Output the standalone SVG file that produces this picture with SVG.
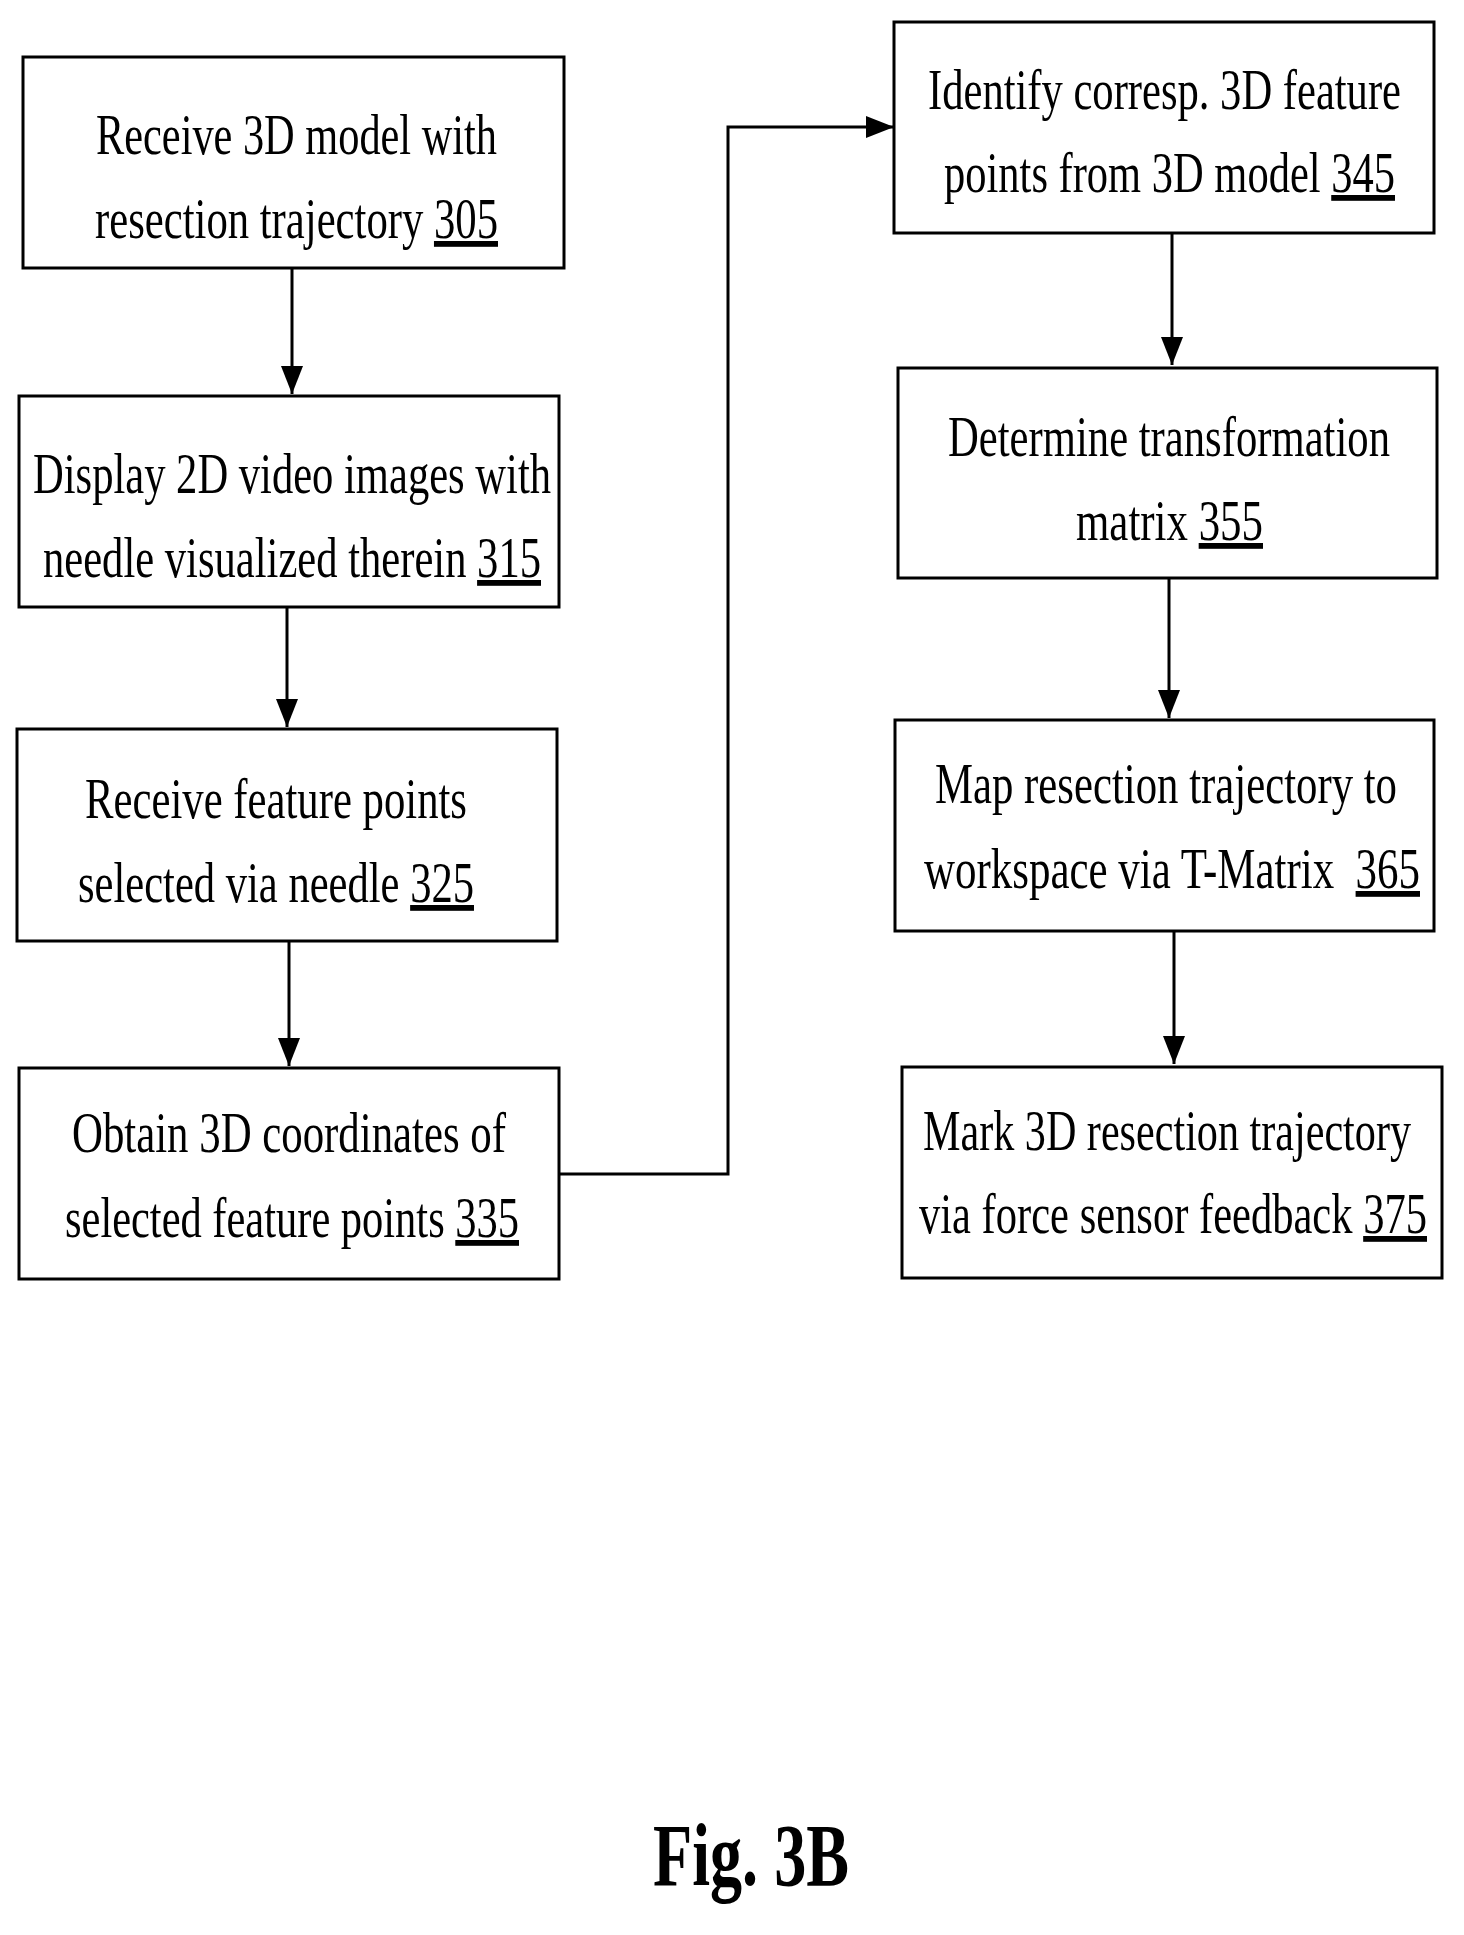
<svg xmlns="http://www.w3.org/2000/svg" width="1464" height="1935" viewBox="0 0 1464 1935">
<style>
rect{fill:#fff;stroke:#000;stroke-width:3}
text{font-family:"Liberation Serif",serif;font-size:58px;fill:#000}
.n{text-decoration:underline}
#connectors path{fill:none;stroke:#000;stroke-width:3;marker-end:url(#a)}
</style>
<defs><marker id="a" viewBox="0 0 10 10" refX="10" refY="5" markerWidth="28" markerHeight="22" markerUnits="userSpaceOnUse" orient="auto" preserveAspectRatio="none"><path d="M0,0L10,5L0,10z" fill="#000"/></marker></defs>
<rect width="1464" height="1935" style="stroke:none"/>
<g id="n305"><rect x="23" y="57" width="541" height="211"/>
<text x="96" y="154" textLength="401" lengthAdjust="spacingAndGlyphs">Receive 3D model with</text>
<text x="95" y="238" textLength="403" lengthAdjust="spacingAndGlyphs">resection trajectory <tspan class="n">305</tspan></text></g>
<g id="n315"><rect x="19" y="396" width="540" height="211"/>
<text x="33" y="493" textLength="518" lengthAdjust="spacingAndGlyphs">Display 2D video images with</text>
<text x="43" y="577" textLength="498" lengthAdjust="spacingAndGlyphs">needle visualized therein <tspan class="n">315</tspan></text></g>
<g id="n325"><rect x="17" y="729" width="540" height="212"/>
<text x="85" y="818" textLength="382" lengthAdjust="spacingAndGlyphs">Receive feature points</text>
<text x="78" y="902" textLength="396" lengthAdjust="spacingAndGlyphs">selected via needle <tspan class="n">325</tspan></text></g>
<g id="n335"><rect x="19" y="1068" width="540" height="211"/>
<text x="72" y="1152" textLength="434" lengthAdjust="spacingAndGlyphs">Obtain 3D coordinates of</text>
<text x="65" y="1237" textLength="454" lengthAdjust="spacingAndGlyphs">selected feature points <tspan class="n">335</tspan></text></g>
<g id="n345"><rect x="894" y="22" width="540" height="211"/>
<text x="928" y="109" textLength="473" lengthAdjust="spacingAndGlyphs">Identify corresp. 3D feature</text>
<text x="944" y="192" textLength="451" lengthAdjust="spacingAndGlyphs">points from 3D model <tspan class="n">345</tspan></text></g>
<g id="n355"><rect x="898" y="368" width="539" height="210"/>
<text x="948" y="456" textLength="442" lengthAdjust="spacingAndGlyphs">Determine transformation</text>
<text x="1076" y="540" textLength="187" lengthAdjust="spacingAndGlyphs">matrix <tspan class="n">355</tspan></text></g>
<g id="n365"><rect x="895" y="720" width="539" height="211"/>
<text x="935" y="803" textLength="462" lengthAdjust="spacingAndGlyphs">Map resection trajectory to</text>
<text x="924" y="888" textLength="496" lengthAdjust="spacingAndGlyphs" xml:space="preserve">workspace via T-Matrix  <tspan class="n">365</tspan></text></g>
<g id="n375"><rect x="902" y="1067" width="540" height="211"/>
<text x="923" y="1150" textLength="488" lengthAdjust="spacingAndGlyphs">Mark 3D resection trajectory</text>
<text x="919" y="1233" textLength="508" lengthAdjust="spacingAndGlyphs">via force sensor feedback <tspan class="n">375</tspan></text></g>
<g id="connectors">
<path d="M292,268V394"/><path d="M287,607V727"/><path d="M289,941V1066"/>
<path d="M559,1174H728V127H894"/>
<path d="M1172,233V365"/><path d="M1169,578V718"/><path d="M1174,931V1064"/>
</g>
<text x="751" y="1885" text-anchor="middle" style="font-size:88px;font-weight:bold" textLength="196" lengthAdjust="spacingAndGlyphs">Fig. 3B</text>
</svg>
